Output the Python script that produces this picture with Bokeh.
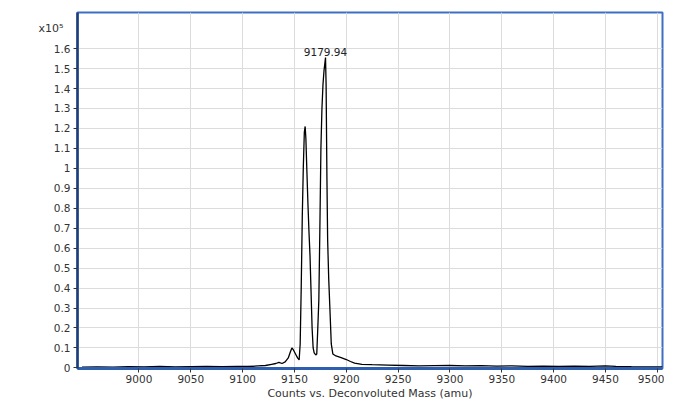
from bokeh.plotting import figure
from bokeh.models import FixedTicker, CustomJSTickFormatter, LinearAxis, Range1d, ColumnDataSource
from bokeh.embed import file_html
from bokeh.resources import INLINE
from bokeh.core.properties import value

# Deconvoluted mass spectrum (counts in units of 1e5)
mass = [8945, 8960, 8975, 8990, 9005, 9020, 9035, 9050, 9065, 9080, 9095, 9105,
        9115, 9122, 9128, 9132, 9135, 9138, 9141, 9144, 9146, 9147.5, 9149, 9151,
        9153, 9154.5, 9155.5, 9156.5, 9157.5, 9158.5, 9159.5, 9160.3, 9161, 9162,
        9163, 9164, 9165, 9166, 9167, 9168, 9169, 9170.5, 9171.5, 9172.5, 9173.5,
        9174.5, 9175.5, 9176.5, 9177.5, 9178.5, 9179.94, 9180.5, 9181.3, 9182,
        9183, 9184.3, 9185.5, 9187, 9190, 9195, 9200, 9204, 9208, 9215, 9225,
        9240, 9255, 9270, 9285, 9300, 9315, 9330, 9345, 9360, 9375, 9390, 9405,
        9420, 9435, 9450, 9460, 9475, 9490, 9505]
counts = [0.004, 0.005, 0.004, 0.006, 0.005, 0.008, 0.005, 0.006, 0.007, 0.006, 0.008, 0.007,
          0.010, 0.012, 0.018, 0.022, 0.028, 0.022, 0.030, 0.050, 0.080, 0.100, 0.090, 0.070,
          0.050, 0.040, 0.120, 0.400, 0.750, 1.000, 1.180, 1.210, 1.150, 0.980,
          0.820, 0.680, 0.560, 0.380, 0.200, 0.100, 0.075, 0.065, 0.070, 0.200, 0.340,
          0.700, 1.100, 1.300, 1.420, 1.490, 1.555, 1.420, 0.950, 0.640,
          0.450, 0.280, 0.120, 0.070, 0.060, 0.052, 0.042, 0.032, 0.024, 0.018, 0.016,
          0.014, 0.012, 0.010, 0.011, 0.012, 0.010, 0.011, 0.009, 0.010, 0.008, 0.009, 0.008,
          0.009, 0.008, 0.010, 0.008, 0.006, 0.005, 0.005]

peak_mass = [9179.94]
peak_counts = [1.555]
peak_label = ["9179.94"]

x_ticks = [9000, 9050, 9100, 9150, 9200, 9250, 9300, 9350, 9400, 9450, 9500]
y_ticks = [0, 0.1, 0.2, 0.3, 0.4, 0.5, 0.6, 0.7, 0.8, 0.9, 1.0,
           1.1, 1.2, 1.3, 1.4, 1.5, 1.6]

x_title = "Counts vs. Deconvoluted Mass (amu)"
multiplier_text = "x10\u2075"
multiplier_pos = [1.70]

FONT = "DejaVu Sans"

p = figure(width=664, height=402, output_backend="svg", toolbar_location=None,
           x_range=Range1d(8940.7, 9505), y_range=Range1d(-0.003, 1.781),
           min_border_left=77, min_border_right=2, min_border_top=12, min_border_bottom=34)

p.background_fill_color = "white"
p.border_fill_color = "white"
p.outline_line_color = "#3f6fc2"
p.outline_line_width = 2

p.line(mass, counts, line_color="black", line_width=1.3)

src = ColumnDataSource(dict(x=peak_mass, y=peak_counts, t=peak_label))
p.text(x="x", y="y", text="t", source=src, text_align="center", text_baseline="bottom",
       y_offset=-2, text_font=value(FONT), text_font_size="10.5px", text_color="#222222")

# axes
p.xaxis.ticker = FixedTicker(ticks=x_ticks)
p.yaxis.ticker = FixedTicker(ticks=y_ticks)
p.yaxis.formatter = CustomJSTickFormatter(code="return tick.toFixed(1).replace(/\\.0$/, '');")

for ax in (p.xaxis, p.yaxis):
    ax.major_label_text_font = FONT
    ax.major_label_text_font_size = "10.5px"
    ax.major_label_text_color = "#333333"
    ax.major_tick_line_color = "#333333"
    ax.major_tick_in = 0
    ax.major_tick_out = 4
    ax.minor_tick_line_color = None

p.yaxis.axis_line_color = "#1c3d7a"
p.yaxis.axis_line_width = 2.5
p.yaxis.major_label_standoff = 3
p.xaxis.axis_line_color = "#2e5fae"
p.xaxis.axis_line_width = 3
p.xaxis.major_label_standoff = 2

p.xaxis.axis_label = x_title
p.xaxis.axis_label_text_font = FONT
p.xaxis.axis_label_text_font_size = "11px"
p.xaxis.axis_label_text_font_style = "normal"
p.xaxis.axis_label_text_color = "#333333"
p.xaxis.axis_label_standoff = 1

p.xgrid.ticker = FixedTicker(ticks=x_ticks)
p.ygrid.ticker = FixedTicker(ticks=y_ticks)
p.grid.grid_line_color = "#dcdcdc"
p.grid.grid_line_width = 1

# scale multiplier shown as a label-only axis to the left of the y axis
mult_axis = LinearAxis(ticker=FixedTicker(ticks=multiplier_pos),
                       formatter=CustomJSTickFormatter(code="return '%s';" % multiplier_text),
                       axis_line_color=None, major_tick_line_color=None,
                       minor_tick_line_color=None, major_tick_out=0, major_tick_in=0,
                       major_label_standoff=-13,
                       major_label_text_font=FONT, major_label_text_font_size="11px",
                       major_label_text_color="#333333")
p.add_layout(mult_axis, "left")

open("out.html", "w").write(file_html(p, INLINE))
